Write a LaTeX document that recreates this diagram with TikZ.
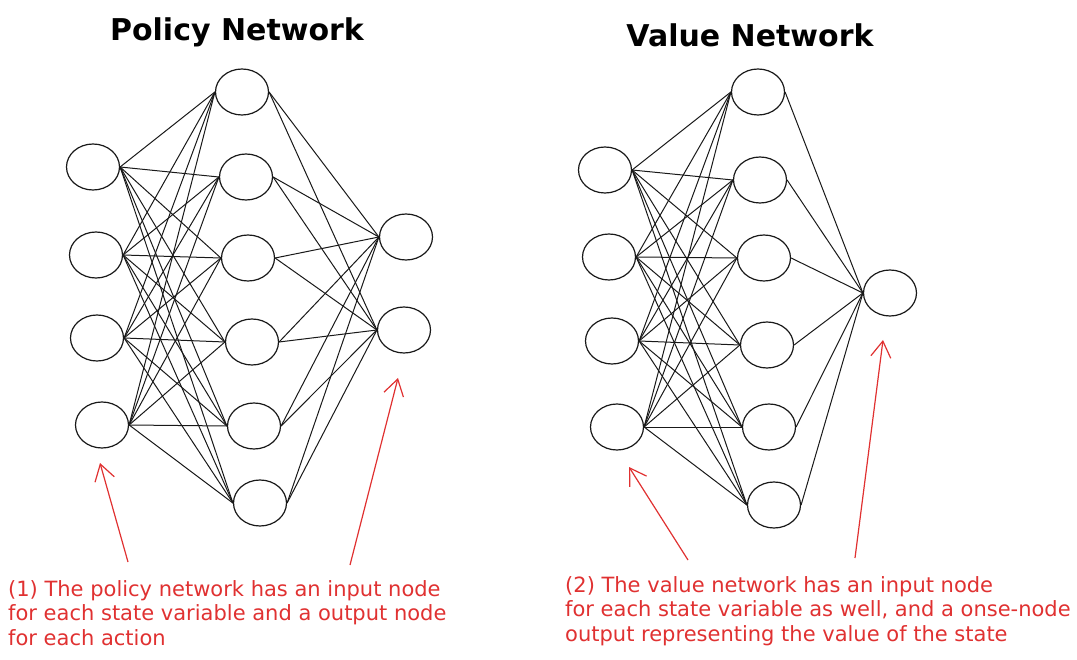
\documentclass[tikz,border=0pt]{standalone}
\usepackage{fontspec}
\setmainfont{DejaVu Sans}
\usetikzlibrary{shapes.geometric,arrows.meta}
\definecolor{sketchred}{HTML}{E03131}
\begin{document}
\begin{tikzpicture}[x=1pt,y=-1pt,
  neuron/.style={draw=black!90,ellipse,minimum width=53pt,minimum height=46pt,line width=1.2pt},
  wire/.style={black!90,line width=1pt},
  pointer/.style={sketchred,line width=1.2pt,-{Straight Barb[length=16pt,width=20pt]}},
  note/.style={sketchred,anchor=north west,align=left,inner sep=0pt,font=\fontsize{21}{24.5}\selectfont},
  heading/.style={font=\fontsize{30}{36}\selectfont\bfseries}]
\useasboundingbox (0,0) rectangle (1077,660);
% policy network
\node[heading] (ptitle) at (237,32) {Policy Network};
\foreach \n/\x/\y in {1/93/167,2/96/255,3/97/338,4/102/425}
  \node[neuron] (pi\n) at (\x,\y) {};
\foreach \n/\x/\y in {1/242/92,2/246/177,3/248/258,4/252/342,5/254/426,6/260/503}
  \node[neuron] (ph\n) at (\x,\y) {};
\node[neuron] (po1) at (406,237) {};
\node[neuron] (po2) at (404,330) {};
\foreach \i in {1,...,4}
  \foreach \h in {1,...,6}
    \draw[wire] (pi\i.east) -- (ph\h.west);
\foreach \h in {1,...,6}
  \foreach \o in {1,2}
    \draw[wire] (ph\h.east) -- (po\o.west);
% value network
\node[heading] (vtitle) at (750,35) {Value Network};
\foreach \n/\x/\y in {1/605/170,2/609/257,3/612/341,4/617/427}
  \node[neuron] (vi\n) at (\x,\y) {};
\foreach \n/\x/\y in {1/758/92,2/760/180,3/764/258,4/767/345,5/769/427,6/774/505}
  \node[neuron] (vh\n) at (\x,\y) {};
\node[neuron] (vo) at (890,293) {};
\foreach \i in {1,...,4}
  \foreach \h in {1,...,6}
    \draw[wire] (vi\i.east) -- (vh\h.west);
\foreach \h in {1,...,6}
  \draw[wire] (vh\h.east) -- (vo.west);
% notes
\coordinate (pinhead) at (100,463);
\coordinate (pinfoot) at (128,562);
\coordinate (pouthead) at (398,378);
\coordinate (poutfoot) at (350,565);
\coordinate (vinhead) at (629,467);
\coordinate (vinfoot) at (688,560);
\coordinate (vouthead) at (883,340);
\coordinate (voutfoot) at (855,558);
\draw[pointer] (pinfoot) -- (pinhead);
\draw[pointer] (poutfoot) -- (pouthead);
\draw[pointer] (vinfoot) -- (vinhead);
\draw[pointer] (voutfoot) -- (vouthead);
\node[note] (pnote) at (8,580) {(1) The policy network has an input node\\for each state variable and a output node\\for each action};
\node[note] (vnote) at (565,576) {(2) The value network has an input node\\for each state variable as well, and a onse-node\\output representing the value of the state};
\end{tikzpicture}
\end{document}
